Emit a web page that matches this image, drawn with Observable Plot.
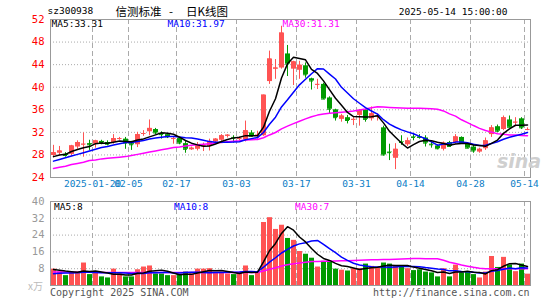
<!DOCTYPE html>
<html><head><meta charset="utf-8">
<script src="https://cdn.jsdelivr.net/npm/d3@7"></script>
<script src="https://cdn.jsdelivr.net/npm/@observablehq/plot@0.6"></script>
<style>
body{margin:0;background:#fff;}
#wrap{position:relative;width:545px;height:300px;overflow:hidden;font-family:"DejaVu Sans Mono",monospace;}
#wrap svg{position:absolute;left:0;}
.t{position:absolute;white-space:nowrap;line-height:10px;height:10px;font-size:9.5px;}
</style></head><body><div id="wrap"></div>
<script>
const dates = ["2025-01-09","2025-01-10","2025-01-13","2025-01-14","2025-01-15","2025-01-16","2025-01-17","2025-01-20","2025-01-21","2025-01-22","2025-01-23","2025-01-24","2025-01-27",
"2025-02-05","2025-02-06","2025-02-07","2025-02-10","2025-02-11","2025-02-12","2025-02-13","2025-02-14","2025-02-17","2025-02-18","2025-02-19","2025-02-20","2025-02-21","2025-02-24","2025-02-25","2025-02-26","2025-02-27","2025-02-28",
"2025-03-03","2025-03-04","2025-03-05","2025-03-06","2025-03-07","2025-03-10","2025-03-11","2025-03-12","2025-03-13","2025-03-14","2025-03-17","2025-03-18","2025-03-19","2025-03-20","2025-03-21","2025-03-24","2025-03-25","2025-03-26","2025-03-27","2025-03-28","2025-03-31",
"2025-04-01","2025-04-02","2025-04-03","2025-04-07","2025-04-08","2025-04-09","2025-04-10","2025-04-11","2025-04-14","2025-04-15","2025-04-16","2025-04-17","2025-04-18","2025-04-21","2025-04-22","2025-04-23","2025-04-24","2025-04-25","2025-04-28","2025-04-29","2025-04-30",
"2025-05-06","2025-05-07","2025-05-08","2025-05-09","2025-05-12","2025-05-13","2025-05-14"];
const open  = [27.9,28.3,28.1,28.1,29.4,29.8,30.0,29.9,30.4,30.2, 30.2,30.8,30.8,30.0,29.8,31.7,32.1,32.5,31.8,31.6, 30.8,30.9,30.0,28.9,29.0,29.5,29.5,30.3,30.6,31.3, 31.1,30.8,30.7,31.9,31.3,31.4,41.0,43.2,43.4,45.9, 43.2,43.0,43.8,41.5,40.4,40.5,38.1,36.0,34.3,34.6, 34.2,35.0,36.0,34.4,34.8,32.8,28.5,27.4,30.3,29.8, 31.2,31.2,31.0,29.9,29.6,29.0,30.2,30.2,31.1,29.9, 29.4,28.5,29.1,31.6,33.0,32.5,34.2,33.7,34.4,32.4];
const high  = [29.7,29.5,28.4,29.7,30.5,31.9,30.6,30.6,30.6,30.5, 31.6,31.1,31.1,30.4,32.0,32.3,34.2,32.7,32.1,31.8, 31.2,31.1,30.4,29.4,30.2,30.1,30.8,30.9,31.6,31.6, 31.4,31.2,34.0,32.3,32.2,38.6,46.4,44.9,50.8,47.4, 44.6,44.6,44.3,41.6,41.4,40.7,38.3,36.1,35.2,35.0, 34.7,36.0,36.1,36.5,35.3,33.1,29.9,30.0,31.4,31.0, 31.6,31.6,31.4,30.3,29.8,30.3,30.4,31.6,31.2,30.1, 29.7,29.2,31.0,33.2,33.3,34.9,34.9,34.6,34.6,32.8];
const low   = [27.5,28.0,27.6,27.8,29.0,27.6,28.8,29.2,29.8,29.6, 29.9,30.6,29.0,28.8,29.3,31.3,31.4,31.6,30.8,30.9, 29.9,29.8,28.3,28.8,28.7,28.6,28.7,30.0,30.4,31.0, 30.1,30.5,30.3,31.1,30.8,31.3,40.5,41.4,43.2,41.9, 40.3,41.4,41.6,39.5,39.6,37.8,35.2,34.0,33.8,33.5, 33.2,33.1,33.8,34.0,34.0,27.8,27.0,25.4,29.7,29.5, 30.5,30.8,29.4,29.2,28.9,28.7,29.4,29.9,30.1,29.1, 28.3,28.3,28.8,31.1,32.0,32.3,32.8,33.0,32.5,32.3];
const close = [28.4,28.7,27.9,29.6,30.2,29.9,29.8,30.5,30.2,29.9, 30.9,30.9,30.1,29.8,31.6,31.8,32.7,31.9,31.6,31.2, 30.9,30.1,29.0,29.2,29.7,29.6,30.4,30.8,31.4,31.5, 31.0,30.9,32.3,31.3,31.5,38.6,45.0,43.4,49.6,44.1, 44.5,43.9,42.2,41.1,40.5,37.9,36.1,34.6,34.9,34.1, 34.3,35.9,34.3,35.3,34.9,28.0,28.4,29.0,30.2,30.5, 31.1,31.1,30.1,29.8,29.1,30.1,29.5,31.2,30.2,29.2, 28.7,29.0,30.5,32.8,32.2,34.6,32.9,33.8,32.8,32.5];
const volume = [7.8,6.4,4.7,6.4,6.4,10.7,5.2,6.0,4.1,3.6, 7.8,5.5,4.1,4.1,7.5,8.8,9.3,5.5,5.5,4.7, 4.7,5.2,6.4,5.5,7.8,7.8,8.0,6.0,6.0,5.5, 5.2,6.0,9.3,4.7,6.4,30.0,32.3,26.7,28.7,22.4, 21.5,16.2,14.9,13.0,8.8,11.5,11.5,7.8,7.3,6.9, 8.0,8.0,10.2,9.1,8.3,10.7,10.2,9.4,9.1,8.0, 7.1,7.5,6.4,6.0,4.1,8.0,4.1,9.7,6.0,6.4, 5.2,3.6,6.4,13.8,8.6,13.4,9.8,6.6,10.2,5.4];
// moving-average values for the first days (history before the window)
const ma5Lead  = [27.7,28.0,28.1,28.6];
const ma10Lead = [26.9,27.2,27.5,27.8,28.1,28.4,28.7,29.0,29.3];
const ma30Lead = [25.6,25.8,26.0,26.3,26.5,26.7,27.0,27.1,27.3,27.4,27.5,27.6,27.7,27.9,28.1,28.3,28.5,28.7,28.9,29.1,29.3,29.4,29.6,29.7,29.8,29.9,30.0,30.1,30.2];
const vma5Lead  = [7.6,7.3,6.9,6.6];
const vma10Lead = [5.6,5.8,5.9,6.0,6.1,6.3,6.3,6.2,6.1];
const vma30Lead = [6.4,6.4,6.4,6.3,6.3,6.3,6.3,6.3,6.2,6.2,6.2,6.2,6.2,6.2,6.2,6.2,6.2,6.2,6.2,6.2,6.2,6.2,6.2,6.2,6.2,6.2,6.2,6.2,6.2];
const tickDates  = ["2025-01-20","2025-02-05","2025-02-17","2025-03-03","2025-03-17","2025-03-31","2025-04-14","2025-04-28","2025-05-14"];
const tickLabels = ["2025-01-20","02-05","02-17","03-03","03-17","03-31","04-14","04-28","05-14"];
const priceTicks = [24,28,32,36,40,44,48,52];
const volTicks = [8,16,24,32,40];
const legendPrice = ["MA5:33.31","MA10:31.97","MA30:31.31"];
const legendVol = ["MA5:8","MA10:8","MA30:7"];
const stockCode = "sz300938";
const stockName = "信测标准";
const chartKind = "日K线图";
const stamp = "2025-05-14 15:00:00";

const RED = "#ff5353", GREEN = "#009a00", MA5C = "#000000", MA10C = "#0000ff", MA30C = "#ff00ff";
const FONT = "DejaVu Sans Mono, monospace";

function ma(arr, n, lead) {
  return arr.map((_, i) => i < n - 1 ? lead[i] : d3.mean(arr.slice(i - n + 1, i + 1)));
}
const m5 = ma(close, 5, ma5Lead), m10 = ma(close, 10, ma10Lead), m30 = ma(close, 30, ma30Lead);
const v5 = ma(volume, 5, vma5Lead), v10 = ma(volume, 10, vma10Lead), v30 = ma(volume, 30, vma30Lead);
const rows = dates.map((d, i) => ({
  i, o: open[i], h: high[i], l: low[i], c: close[i], v: volume[i],
  col: close[i] >= open[i] ? RED : GREEN,
  m5: m5[i], m10: m10[i], m30: m30[i], v5: v5[i], v10: v10[i], v30: v30[i]
}));
const ticks = tickDates.map((d, k) => ({x: dates.indexOf(d) - 0.5, label: tickLabels[k]}));
const n = dates.length;
const xScale = {domain: [-0.5, n - 0.5], axis: null};
const halfBody = 0.5 - 1/6;

const p1 = Plot.plot({
  width: 545, height: 190, marginLeft: 50, marginRight: 15, marginTop: 19, marginBottom: 13,
  x: xScale, y: {domain: [24, 52], axis: null}, color: {type: "identity"},
  style: {background: "transparent", overflow: "visible"},
  marks: [
    Plot.ruleY(priceTicks.slice(1, -1), {stroke: "#aaa", strokeDasharray: "1,2"}),
    Plot.ruleX(ticks, {x: "x", stroke: "#aaa", strokeDasharray: "5,3"}),
    Plot.ruleX(rows, {x: "i", y1: "l", y2: "h", stroke: "col"}),
    Plot.ruleX(rows, {x: "i", y1: "o", y2: "c", stroke: "col", strokeWidth: 5}),
    Plot.ruleY(rows, {x1: d => d.i - halfBody, x2: d => d.i + halfBody, y: "c", stroke: "col"}),
    Plot.line(rows, {x: "i", y: "m30", stroke: MA30C}),
    Plot.line(rows, {x: "i", y: "m10", stroke: MA10C}),
    Plot.line(rows, {x: "i", y: "m5", stroke: MA5C}),
    Plot.frame({stroke: "#999"}),
    Plot.text(priceTicks, {y: d => d, text: d => String(d), frameAnchor: "left", dx: -6, textAnchor: "end", fill: "#ff0000", fontSize: 10.5, fontFamily: FONT}),
    Plot.text(ticks, {x: "x", text: "label", frameAnchor: "bottom", dy: 9, fill: "#0a7dc6", fontSize: 9.5, fontFamily: FONT})
  ]
});
p1.style.top = "0px";

const p2 = Plot.plot({
  width: 545, height: 110, marginLeft: 50, marginRight: 15, marginTop: 11, marginBottom: 15,
  x: xScale, y: {domain: [0, 40], axis: null}, color: {type: "identity"},
  style: {background: "transparent", overflow: "visible"},
  marks: [
    Plot.ruleY(volTicks.slice(0, -1), {stroke: "#aaa", strokeDasharray: "1,2"}),
    Plot.ruleX(ticks, {x: "x", stroke: "#aaa", strokeDasharray: "5,3"}),
    Plot.ruleX(rows, {x: "i", y1: 0, y2: "v", stroke: "col", strokeWidth: 5}),
    Plot.line(rows, {x: "i", y: "v30", stroke: MA30C}),
    Plot.line(rows, {x: "i", y: "v10", stroke: MA10C}),
    Plot.line(rows, {x: "i", y: "v5", stroke: MA5C}),
    Plot.frame({stroke: "#999"}),
    Plot.text(volTicks, {y: d => d, text: d => String(d), frameAnchor: "left", dx: -6, textAnchor: "end", fill: "#999", fontSize: 10.5, fontFamily: FONT})
  ]
});
p2.style.top = "190px";

const wrap = document.getElementById("wrap");
wrap.appendChild(p1);
wrap.appendChild(p2);

function txt(s, x, yc, color, opts = {}) {
  const e = document.createElement("div");
  e.className = "t";
  e.textContent = s;
  e.style.top = (yc - 5) + "px";
  if (opts.right) e.style.right = (545 - x) + "px"; else e.style.left = x + "px";
  e.style.color = color;
  if (opts.size) e.style.fontSize = opts.size + "px";
  if (opts.font) e.style.fontFamily = opts.font;
  if (opts.weight) e.style.fontWeight = opts.weight;
  if (opts.style) e.style.fontStyle = opts.style;
  wrap.appendChild(e);
  return e;
}
txt(stockCode, 47.5, 11, "#000");
txt(stockName, 115.5, 10.5, "#000", {size: 11.5, font: "Noto Sans CJK SC"});
txt("-", 169, 10.5, "#000", {size: 11.5, font: "Noto Sans CJK SC"});
txt(chartKind, 186, 10.5, "#000", {size: 11.5, font: "Noto Sans CJK SC"});
txt(stamp, 507.5, 11.5, "#000", {right: true});
txt(legendPrice[0], 51.5, 24, MA5C);
txt(legendPrice[1], 167.5, 24, MA10C);
txt(legendPrice[2], 282.5, 24, MA30C);
txt(legendVol[0], 54, 206.5, MA5C);
txt(legendVol[1], 174, 206.5, MA10C);
txt(legendVol[2], 295, 206.5, MA30C);
txt("Copyright 2025 SINA.COM", 50, 293, "#555", {size: 10});
txt("http://finance.sina.com.cn", 529.5, 293, "#555", {right: true, size: 10});
txt("x万", 28, 286, "#bbb", {size: 10, font: "Noto Sans CJK SC"});
const logo = txt("sina", 497, 162, "#cfcfcf", {size: 19, font: "DejaVu Sans", weight: "bold", style: "italic"});
logo.style.lineHeight = "20px"; logo.style.height = "20px"; logo.style.top = "151px";
</script></body></html>
